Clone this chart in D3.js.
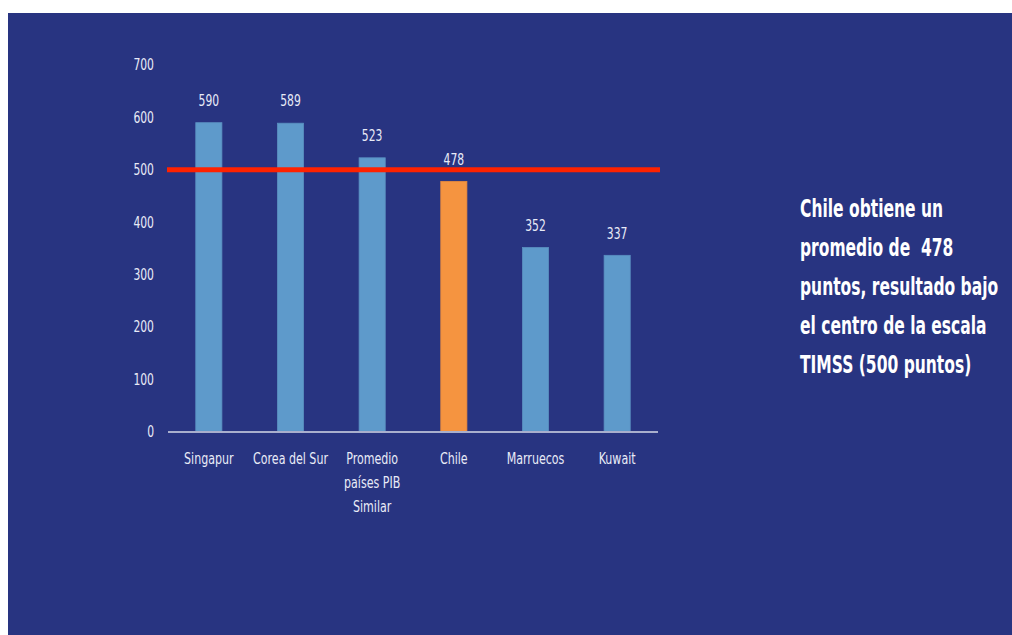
<!DOCTYPE html>
<html>
<head>
<meta charset="utf-8">
<script src="https://cdn.jsdelivr.net/npm/d3@7"></script>
<style>
  body { margin: 0; background: #fff; }
  svg text { font-family: "DejaVu Sans Condensed", "DejaVu Sans", sans-serif; white-space: pre; }
</style>
</head>
<body>
<div id="chart"></div>
<script>
const categories = [["Singapur"], ["Corea del Sur"], ["Promedio", "países PIB", "Similar"], ["Chile"], ["Marruecos"], ["Kuwait"]];
const values = [590, 589, 523, 478, 352, 337];
const highlight = "Chile";
const yTicks = [0, 100, 200, 300, 400, 500, 600, 700];
const refValue = 500;
const noteLines = ["Chile obtiene un", "promedio de  478", "puntos, resultado bajo", "el centro de la escala", "TIMSS (500 puntos)"];

const W = 1012, H = 635;
const svg = d3.select("#chart").append("svg").attr("width", W).attr("height", H);

// squeeze text horizontally to look like a narrow font
function condense(sel, k) {
  sel.each(function() {
    const w = this.getComputedTextLength();
    this.setAttribute("textLength", w * k);
    this.setAttribute("lengthAdjust", "spacingAndGlyphs");
  });
}

// dark blue slide panel
svg.append("rect").attr("x", 8).attr("y", 13).attr("width", W - 8).attr("height", H - 13).attr("fill", "#283481");

const names = categories.map(d => d.join(" "));
const x = d3.scaleBand().domain(names).range([168, 658]).paddingInner(0.68).paddingOuter(0.34);
const y = d3.scaleLinear().domain([0, 700]).range([432, 65]);

// y tick labels (no axis line)
svg.append("g").selectAll("text").data(yTicks).join("text")
  .attr("x", 154).attr("y", d => y(d)).attr("dy", "0.35em")
  .attr("text-anchor", "end").attr("fill", "#e8ebf7").style("font-size", "15px")
  .text(d => d)
  .call(condense, 0.8);

// bars
svg.append("g").selectAll("rect").data(values).join("rect")
  .attr("x", (d, i) => x(names[i]))
  .attr("y", d => y(d))
  .attr("width", x.bandwidth())
  .attr("height", d => y(0) - y(d))
  .attr("fill", (d, i) => names[i] === highlight ? "#f59440" : "#5e9acb")
  .attr("stroke", (d, i) => names[i] === highlight ? "#e88a3c" : "#5a8fc0")
  .attr("stroke-width", 0.8);

// value labels
svg.append("g").selectAll("text").data(values).join("text")
  .attr("x", (d, i) => x(names[i]) + x.bandwidth() / 2)
  .attr("y", d => y(d) - 22).attr("dy", "0.35em")
  .attr("text-anchor", "middle").attr("fill", "#e8ebf7").style("font-size", "15px")
  .text(d => d)
  .call(condense, 0.8);

// x axis line
svg.append("line").attr("x1", 168).attr("x2", 658).attr("y1", y(0)).attr("y2", y(0))
  .attr("stroke", "#a9afcd").attr("stroke-width", 2);

// category labels, one text per line
const catLines = [];
categories.forEach((lines, i) => lines.forEach((t, j) => catLines.push({ name: names[i], t, j })));
svg.append("g").selectAll("text").data(catLines).join("text")
  .attr("x", d => x(d.name) + x.bandwidth() / 2)
  .attr("y", d => 459 + d.j * 24).attr("dy", "0.35em")
  .attr("text-anchor", "middle").attr("fill", "#e8ebf7").style("font-size", "15px")
  .text(d => d.t)
  .call(condense, 0.82);

// reference line at 500
svg.append("line").attr("x1", 167).attr("x2", 660).attr("y1", y(refValue)).attr("y2", y(refValue))
  .attr("stroke", "#ff2200").attr("stroke-width", 5);

// side note, squeezed with a horizontal scale on its group
svg.append("g").attr("transform", "translate(800,0) scale(0.69,1)")
  .selectAll("text").data(noteLines).join("text")
  .attr("x", 0).attr("y", (d, i) => 208 + i * 39).attr("dy", "0.35em")
  .attr("fill", "#ffffff").style("font-size", "25px").style("font-weight", "bold")
  .text(d => d);
</script>
</body>
</html>
